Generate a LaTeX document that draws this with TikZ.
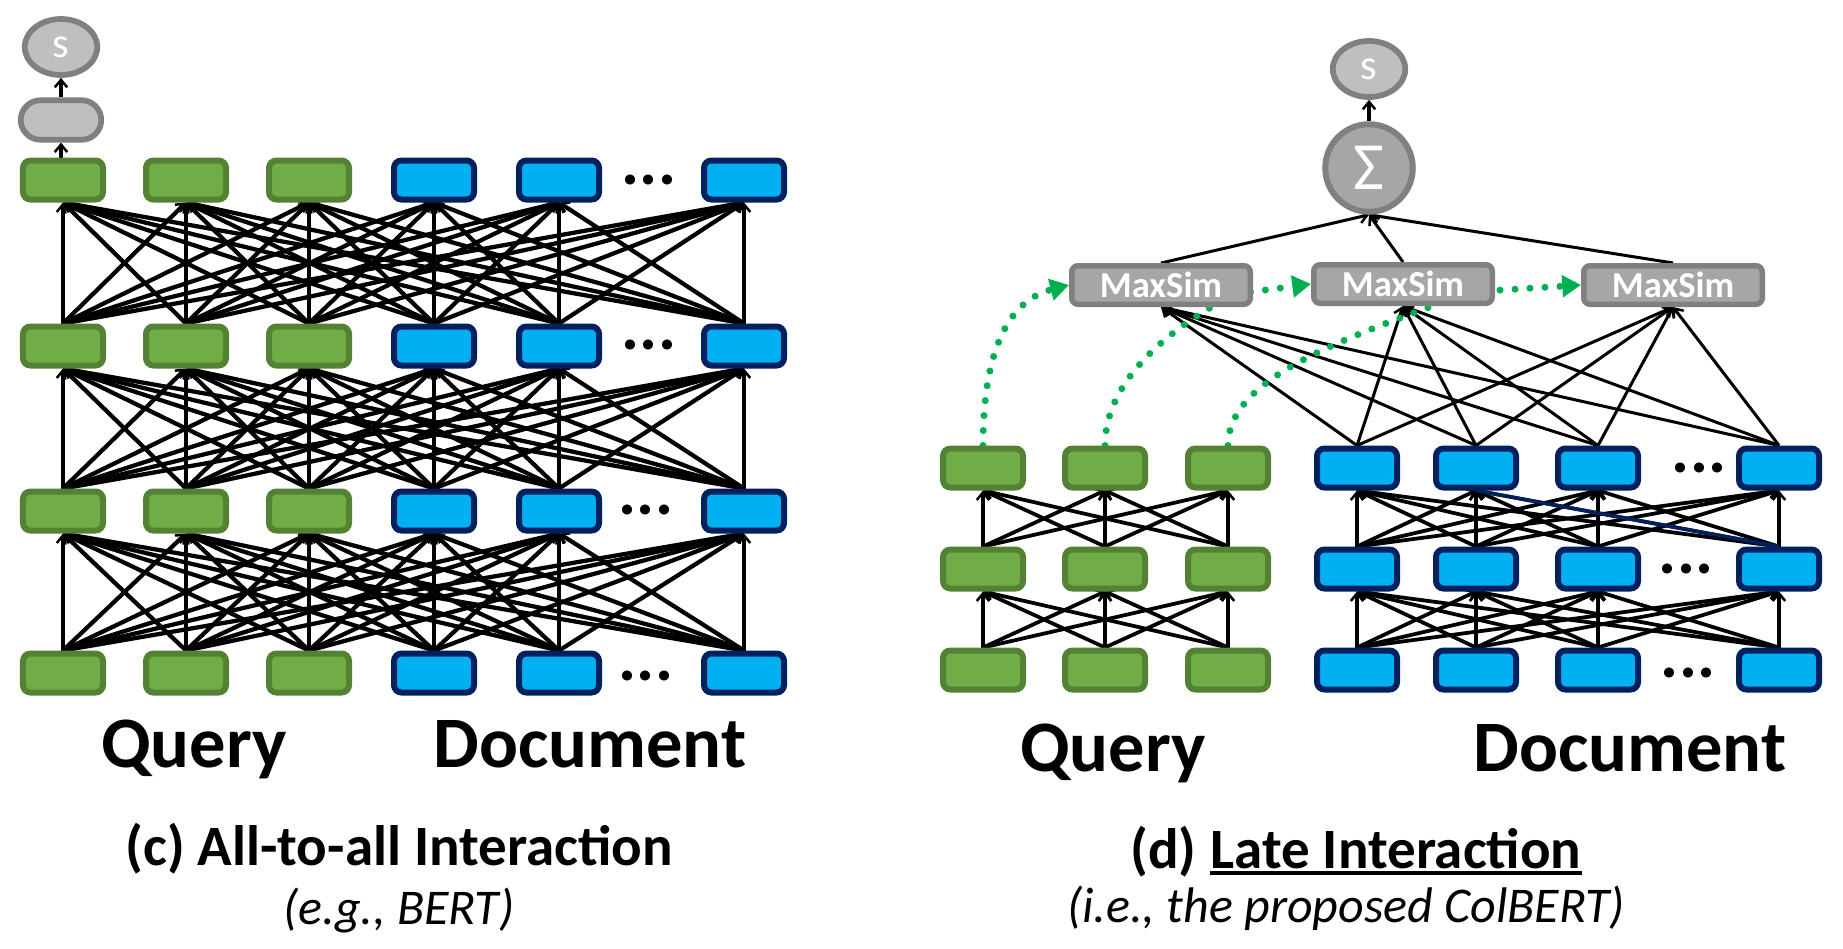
\documentclass[tikz,border=0pt]{standalone}
\usepackage{fontspec}
\setmainfont{Carlito}
\usetikzlibrary{arrows.meta,backgrounds,shapes.geometric,shapes.misc}
\definecolor{qfill}{HTML}{70AD47}
\definecolor{qline}{HTML}{548235}
\definecolor{dfill}{HTML}{00B0F0}
\definecolor{dline}{HTML}{002060}
\definecolor{lgray}{HTML}{BFBFBF}
\definecolor{mgray}{HTML}{A6A6A6}
\definecolor{bgray}{HTML}{808080}
\definecolor{gdots}{HTML}{00B050}
\begin{document}
\begin{tikzpicture}[x=0.4pt,y=-0.4pt,
  tok/.style={rectangle,rounded corners=3pt,line width=2.4pt,minimum width=32pt,minimum height=15.6pt,inner sep=0pt},
  qtok/.style={tok,fill=qfill,draw=qline},
  dtok/.style={tok,fill=dfill,draw=dline},
  score/.style={ellipse,fill=lgray,draw=bgray,line width=2.3pt,minimum width=29pt,minimum height=22.4pt,inner sep=0pt,text=white,font=\fontsize{17}{17}\selectfont},
  pill/.style={rounded rectangle,fill=lgray,draw=bgray,line width=2.3pt,minimum width=32.2pt,minimum height=15.8pt,inner sep=0pt},
  sumnode/.style={circle,fill=mgray,draw=bgray,line width=2.4pt,minimum size=35pt,inner sep=0pt,text=white,font=\fontsize{27}{27}\selectfont},
  maxsim/.style={rectangle,rounded corners=2.5pt,fill=mgray,draw=bgray,line width=2.2pt,minimum width=71.4pt,minimum height=15.4pt,inner sep=0pt,text=white,font=\fontsize{14.6}{14.6}\selectfont\bfseries},
  ell/.style={inner sep=0pt,anchor=south,font=\fontsize{27}{27}\selectfont\bfseries},
  big/.style={inner sep=0pt,anchor=base,font=\fontsize{29}{29}\selectfont\bfseries},
  captxt/.style={inner sep=0pt,font=\fontsize{22.8}{22.8}\selectfont\bfseries},
  subtxt/.style={inner sep=0pt,anchor=base,font=\fontsize{20}{20}\selectfont\itshape},
  tipb/.tip={Straight Barb[length=3pt,width=5pt,line width=1pt]},
  lconn/.style={line width=1.7pt,-tipb},
  rconn/.style={line width=1.5pt,-tipb},
  sconn/.style={line width=1.2pt,-tipb},
  gdot/.style={draw=gdots,line width=2.8pt,line cap=round,dash pattern=on 0pt off 6pt,-{Triangle[length=7.5pt,width=8.5pt]}}
]
\useasboundingbox (0,0) rectangle (1843,948);

% ---------------- left panel (c) ----------------
\foreach \r/\y in {1/180,2/346,3/511,4/673}{
  \foreach \c/\x in {1/63,2/186,3/309}{\node[qtok] (L\r\c) at (\x,\y) {};}
  \foreach \c/\x in {4/434,5/559,6/744}{\node[dtok] (L\r\c) at (\x,\y) {};}
}
\node[ell] (ldots1) at (649,185) {...};
\node[ell] (ldots2) at (649,350) {...};
\node[ell] (ldots3) at (646,515) {...};
\node[ell] (ldots4) at (646,681) {...};
\node[pill] (pillL) at (61,120) {};
\node[score] (scoreL) at (61,47) {s};

\begin{scope}[on background layer]
  \foreach \r/\s in {1/2,2/3,3/4}{
    \foreach \a in {1,...,6}{
      \foreach \b in {1,...,6}{
        \draw[lconn] (L\s\b.north) -- (L\r\a.south);
      }
    }
  }
  \draw[lconn] (L11.north -| pillL.south) -- (pillL.south);
  \draw[lconn] (pillL.north) -- (scoreL.south);
\end{scope}

\node[big] (lquery) at (194,767) {Query};
\node[big] (ldoc) at (590,767) {Document};
\node[captxt,anchor=base] (lcap) at (399,865) {(c) All-to-all Interaction};
\node[subtxt] (lsub) at (399,924) {(e.g., BERT)};

% ---------------- right panel (d) ----------------
\foreach \r/\y in {1/468,2/569,3/670}{
  \foreach \c/\x in {1/983,2/1105,3/1228}{\node[qtok] (Q\r\c) at (\x,\y) {};}
  \foreach \c/\x in {1/1357,2/1476,3/1598,4/1779}{\node[dtok] (D\r\c) at (\x,\y) {};}
}
\node[ell] (rdots1) at (1699,473) {...};
\node[ell] (rdots2) at (1686,574) {...};
\node[ell] (rdots3) at (1688,678) {...};

\node[maxsim] (M1) at (1161,285) {MaxSim};
\node[maxsim] (M2) at (1403,284) {MaxSim};
\node[maxsim] (M3) at (1673,285) {MaxSim};
\node[sumnode] (Sig) at (1369,168) {Σ};
\node[score] (scoreR) at (1369,69) {s};

\coordinate (c2) at (1235,294);
\coordinate (c3) at (1470,292);

\begin{scope}[on background layer]
  \foreach \r/\s in {1/2,2/3}{
    \foreach \a in {1,2,3}{
      \foreach \b in {1,2,3}{
        \draw[rconn] (Q\s\b.north) -- (Q\r\a.south);
      }
    }
    \foreach \a in {1,...,4}{
      \foreach \b in {1,...,4}{
        \draw[rconn] (D\s\b.north) -- (D\r\a.south);
      }
    }
  }
  \draw[line width=1.4pt,draw=dline] (D24.north) -- (D12.south);
  \foreach \a in {1,2,3}{
    \foreach \b in {1,...,4}{
      \draw[sconn] (D1\b.north) -- (M\a.south);
    }
    \draw[sconn] (M\a.north) -- (Sig.south);
  }
  \draw[line width=1.6pt,-tipb] (Sig.north) -- (scoreR.south);
  \draw[gdot] (Q11.north) .. controls +(0,-75) and +(-70,18) .. (M1.west);
  \draw[gdot] (Q12.north) .. controls +(0,-70) and +(-55,28) .. (c2) -- (M2.west);
  \draw[gdot] (Q13.north) .. controls +(0,-70) and +(-120,45) .. (c3) -- (M3.west);
\end{scope}

\node[big] (rquery) at (1113,771) {Query};
\node[big] (rdoc) at (1630,771) {Document};
\node[captxt,anchor=base west] (late) at (1210,868) {Late Interaction};
\node[captxt,anchor=base east] (dlab) at ([xshift=-5.2pt]late.base west) {(d)};
\draw[line width=1.4pt] ([yshift=-2pt]late.base west) -- ([yshift=-2pt]late.base east);
\node[subtxt] (rsub) at (1346,922) {(i.e., the proposed ColBERT)};
\end{tikzpicture}
\end{document}
